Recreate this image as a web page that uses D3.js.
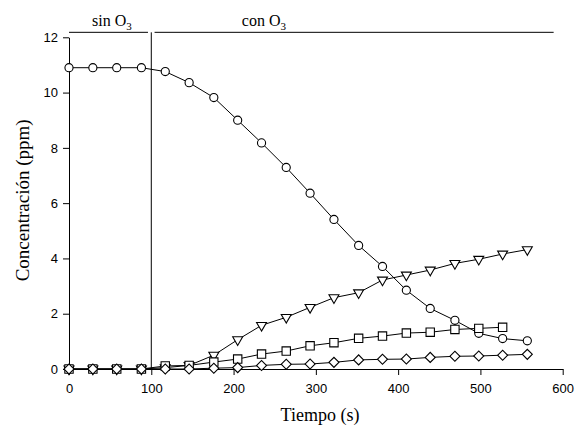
<!DOCTYPE html>
<html lang="en">
  <head>
    <meta charset="utf-8">
    <title>Concentración vs tiempo</title>
    <style>
      body {
          margin: 0;
          background: white;
      }
      svg {
          display: block;
      }
    </style>
    <script src="https://d3js.org/d3.v7.min.js"></script>
  </head>
  <body>
    <div class="chart"></div>
    <script>

    // time (s) for each sample
    const tiempo = [0, 29, 58, 88, 117, 146, 176, 205, 234, 264, 293, 322, 352, 381, 410, 439, 469, 498, 527, 557];

    // concentrations (ppm)
    const circulos   = [10.9, 10.9, 10.9, 10.9, 10.76, 10.36, 9.82, 9.0, 8.18, 7.29, 6.36, 5.41, 4.47, 3.71, 2.85, 2.19, 1.76, 1.29, 1.1, 1.02];
    const triangulos = [0, 0, 0, 0, 0.05, 0.13, 0.5, 1.06, 1.58, 1.87, 2.23, 2.58, 2.76, 3.22, 3.4, 3.58, 3.82, 3.97, 4.16, 4.32];
    const cuadrados  = [0, 0, 0, 0, 0.11, 0.13, 0.25, 0.36, 0.54, 0.65, 0.84, 0.95, 1.11, 1.19, 1.3, 1.33, 1.43, 1.47, 1.51];
    const rombos     = [0, 0, 0, 0, 0, 0, 0.03, 0.05, 0.13, 0.17, 0.18, 0.24, 0.33, 0.35, 0.36, 0.42, 0.46, 0.47, 0.5, 0.53];

    const xTicks = [0, 100, 200, 300, 400, 500, 600];
    const yTicks = [0, 2, 4, 6, 8, 10, 12];

    // periods marked above the plot: [start, end] in seconds
    const periodos = ["sin", "con"];
    const periodoInicio = [0, 104];
    const periodoFin = [96, 589];
    const etiquetaInicio = [28, 210];
    const cambioO3 = 100;

    const margin = { top: 37.3, left: 69, bottom: 57, right: 13.3 },
          width = 576 - margin.left - margin.right,
          height = 426 - margin.top - margin.bottom;

    const x = d3.scaleLinear()
      .domain([0, 600])
      .range([0, width]);

    const y = d3.scaleLinear()
      .domain([0, 12])
      .range([height, 0]);

    const svg = d3.select(".chart")
      .append("svg")
      .attr("width", 576)
      .attr("height", 426)
      .style("background-color", "white")
      .append("g")
      .attr("transform", `translate(${margin.left},${margin.top})`);

    // axes
    const xAxis = svg.append("g")
      .attr("transform", `translate(0,${height})`)
      .call(d3.axisBottom(x).tickValues(xTicks).tickSize(6).tickPadding(8.5).tickSizeOuter(0));

    const yAxis = svg.append("g")
      .call(d3.axisLeft(y).tickValues(yTicks).tickSize(6).tickPadding(5).tickSizeOuter(0));

    [xAxis, yAxis].forEach(a => {
      a.selectAll("path, line").attr("stroke", "black").attr("stroke-width", 1);
      a.selectAll("text")
        .attr("fill", "black")
        .style("font-family", "'Liberation Sans', Arial, sans-serif")
        .style("font-size", "13px");
    });

    // axis titles
    svg.append("text")
      .attr("x", x(305))
      .attr("y", height + 52)
      .style("text-anchor", "middle")
      .style("font-family", "'Liberation Serif', 'Times New Roman', serif")
      .style("font-size", "18px")
      .text("Tiempo (s)");

    svg.append("text")
      .attr("transform", `translate(${29 - margin.left},${y(6.1)}) rotate(-90)`)
      .style("text-anchor", "middle")
      .style("font-family", "'Liberation Serif', 'Times New Roman', serif")
      .style("font-size", "19px")
      .text("Concentración (ppm)");

    // period brackets and labels
    periodos.forEach((p, i) => {
      svg.append("line")
        .attr("x1", x(periodoInicio[i]))
        .attr("x2", x(periodoFin[i]))
        .attr("y1", y(12.18))
        .attr("y2", y(12.18))
        .attr("stroke", "black")
        .attr("stroke-width", 1);

      const t = svg.append("text")
        .attr("x", x(etiquetaInicio[i]))
        .attr("y", y(12.4))
        .style("font-family", "'Liberation Serif', 'Times New Roman', serif")
        .style("font-size", "16px");
      t.append("tspan").text(p + " O");
      t.append("tspan")
        .attr("dy", 4)
        .style("font-size", "11px")
        .text("3");
    });

    svg.append("line")
      .attr("x1", x(cambioO3))
      .attr("x2", x(cambioO3))
      .attr("y1", y(12.18))
      .attr("y2", y(0))
      .attr("stroke", "black")
      .attr("stroke-width", 1);

    // series
    const series = [
      { valores: circulos,   simbolo: d3.symbolCircle,   tam: 52, giro: 0 },
      { valores: triangulos, simbolo: d3.symbolTriangle, tam: 43, giro: 180 },
      { valores: cuadrados,  simbolo: d3.symbolSquare,   tam: 70, giro: 0 },
      { valores: rombos,     simbolo: d3.symbolSquare,   tam: 50, giro: 45 }
    ];

    const line = d3.line()
      .x(d => x(d[0]))
      .y(d => y(d[1]));

    series.forEach(s => {
      const pts = s.valores.map((v, i) => [tiempo[i], v]);

      svg.append("path")
        .datum(pts)
        .attr("d", line)
        .attr("fill", "none")
        .attr("stroke", "black")
        .attr("stroke-width", 1);

      svg.append("g")
        .selectAll("path")
        .data(pts)
        .join("path")
        .attr("d", d3.symbol(s.simbolo, s.tam))
        .attr("transform", d => `translate(${x(d[0])},${y(d[1])}) rotate(${s.giro})`)
        .attr("fill", "white")
        .attr("stroke", "black")
        .attr("stroke-width", 1.1);
    });

    </script>
  </body>
</html>
